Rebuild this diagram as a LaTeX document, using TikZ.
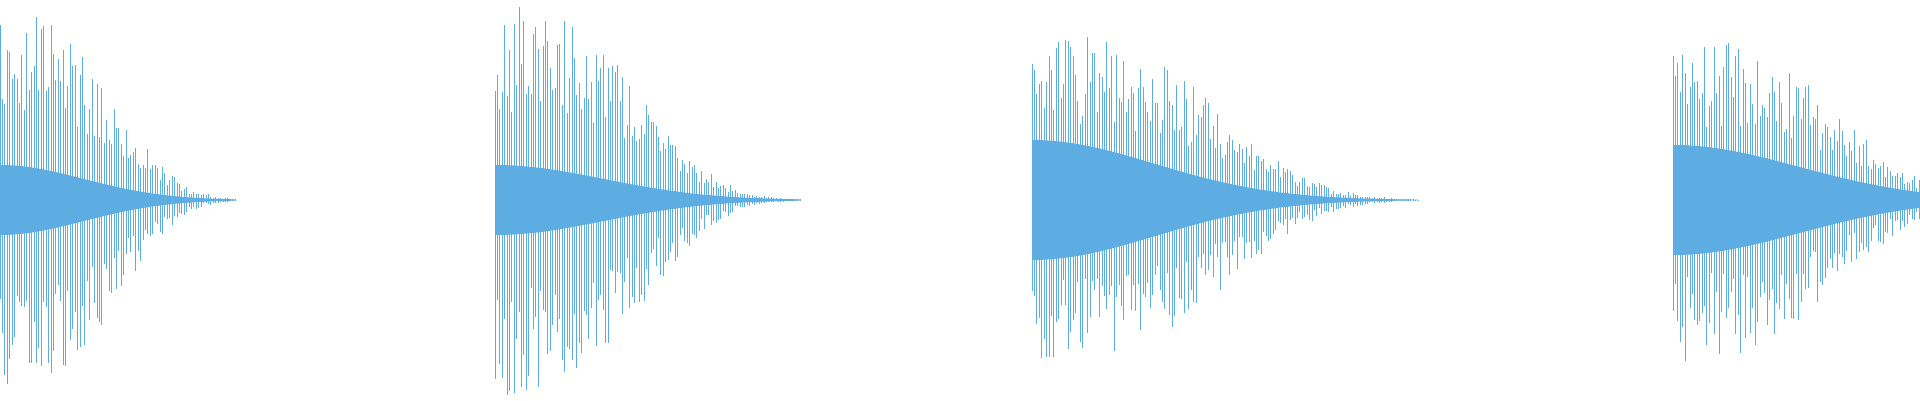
\documentclass[tikz,border=0pt]{standalone}
\definecolor{wavec}{RGB}{93,173,226}
\tikzset{wave/.style={wavec},spike/.style={draw=wavec,line width=0.7pt}}
\newcommand\myburst[6]{% x0, L, A, core, env exp, core exp
 \fill[wave] plot[domain=0:1,samples=50] ({#1+#2*\x},{200+#4*exp(-#6*\x*\x)}) -- plot[domain=1:0,samples=50] ({#1+#2*\x},{200-#4*exp(-#6*\x*\x)}) -- cycle;
 \pgfmathtruncatemacro\nn{#2/2.4}
 \foreach \k in {0,...,\nn}{
  \pgfmathsetmacro\t{\k/\nn}
  \pgfmathsetmacro\ea{#3*exp(-#5*\t*\t*\t)}
  \pgfmathsetmacro\a{\ea*(0.45+0.55*rnd)}
  \pgfmathsetmacro\b{\ea*(0.45+0.55*rnd)}
  \draw[spike] ({#1+#2*\t},{200-\b}) -- ({#1+#2*\t},{200+\a});
 }}
\begin{document}
\begin{tikzpicture}[x=1pt,y=1pt]
\useasboundingbox (0,0) rectangle (1920,400);
\pgfmathsetseed{7}
\myburst{0}{235}{188}{35}{5}{4}
\myburst{495}{305}{195}{35}{5.5}{4}
\myburst{1032}{386}{170}{60}{5.5}{5}
\myburst{1673}{280}{162}{55}{3}{2.5}
\end{tikzpicture}
\end{document}
